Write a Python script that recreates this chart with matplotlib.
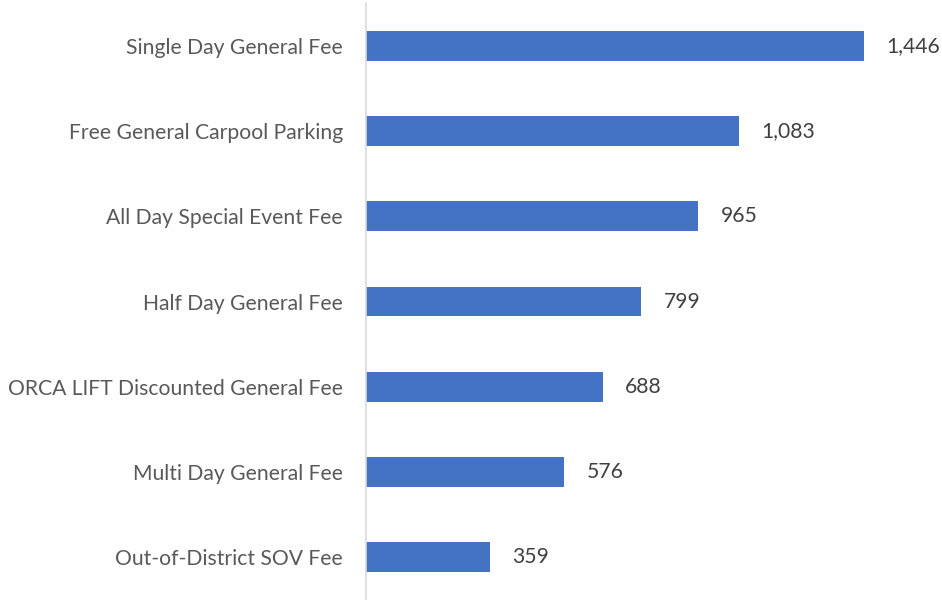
import matplotlib.pyplot as plt

plt.rcParams['font.family'] = ['Lato', 'DejaVu Sans']

categories = ['Single Day General Fee', 'Free General Carpool Parking', 'All Day Special Event Fee',
              'Half Day General Fee', 'ORCA LIFT Discounted General Fee', 'Multi Day General Fee',
              'Out-of-District SOV Fee']
values = [1446, 1083, 965, 799, 688, 576, 359]

fig = plt.figure(figsize=(9.42, 6), dpi=100)
ax = fig.add_axes([0.3885, 0.0, 0.6115, 0.995])

y = list(range(len(categories)))[::-1]
ax.barh(y, values, height=0.35, color='#4472C4')

# value labels
for yi, v in zip(y, values):
    ax.annotate(f'{v:,}', (v, yi), xytext=(16, 0), textcoords='offset points',
                ha='left', va='center', fontsize=15.2, color='#404040')

ax.set_yticks(y)
ax.set_yticklabels(categories, fontsize=15.2, color='#595959')
ax.tick_params(axis='y', length=0, pad=16.5)
ax.set_xticks([])
ax.set_xlim(0, 1672)
ax.set_ylim(-0.5, len(categories) - 0.5)

for s in ['top', 'right', 'bottom']:
    ax.spines[s].set_visible(False)
ax.spines['left'].set_color('#D9D9D9')
ax.spines['left'].set_linewidth(1.2)

plt.savefig('out.png', dpi=100)
